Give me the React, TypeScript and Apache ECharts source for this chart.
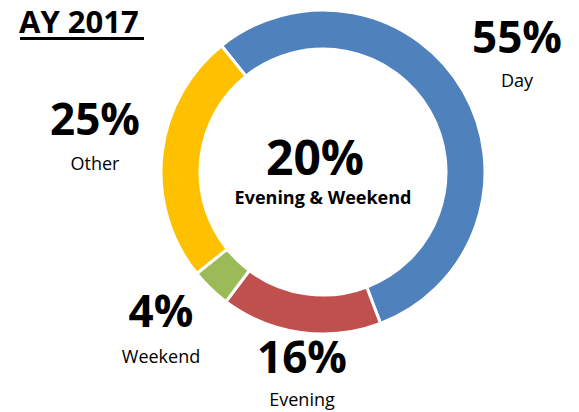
import React, { useEffect, useRef } from "react";
import * as echarts from "echarts";

const title = "AY 2017";
const categories = ["Day", "Evening", "Weekend", "Other"];
const values = [55, 16, 4, 25];
const colors = ["#4F81BD", "#C0504D", "#9BBB59", "#FFC000"];
const centerValue = 20;
const centerLabel = "Evening & Weekend";

// label anchor positions (centre x, middle y of the percentage text, middle y of the name)
const labelPos = [
  [517, 36, 80],
  [302, 356, 399],
  [161, 310, 356],
  [95, 118, 163],
];

export default function App() {
  const ref = useRef<HTMLDivElement>(null);
  useEffect(() => {
    if (!ref.current) return;
    const chart = echarts.init(ref.current, null, { renderer: "svg" });
    const font = "'Open Sans', 'Noto Sans', sans-serif";
    const graphics: any[] = [];
    graphics.push({
      type: "text",
      x: 19,
      y: 21,
      style: {
        text: title,
        font: `bold 31px ${font}`,
        fill: "#000",
        verticalAlign: "middle",
        lineHeight: 32,
      },
    });
    graphics.push({
      type: "rect",
      shape: { x: 20, y: 37, width: 124, height: 3 },
      style: { fill: "#000" },
    });
    categories.forEach((c, i) => {
      const [x, y1, y2] = labelPos[i];
      graphics.push({
        type: "text",
        x,
        y: y1,
        style: {
          text: `${values[i]}%`,
          font: `bold 44px ${font}`,
          fill: "#000",
          align: "center",
          verticalAlign: "middle",
          lineHeight: 40,
        },
      });
      graphics.push({
        type: "text",
        x,
        y: y2,
        style: {
          text: c,
          font: `18px ${font}`,
          fill: "#000",
          align: "center",
          verticalAlign: "middle",
          lineHeight: 20,
        },
      });
    });
    graphics.push({
      type: "text",
      x: 315,
      y: 156,
      style: {
        text: `${centerValue}%`,
        font: `bold 48px ${font}`,
        fill: "#000",
        align: "center",
        verticalAlign: "middle",
        lineHeight: 44,
      },
    });
    graphics.push({
      type: "text",
      x: 323,
      y: 197,
      style: {
        text: centerLabel,
        font: `bold 18px ${font}`,
        fill: "#000",
        align: "center",
        verticalAlign: "middle",
        lineHeight: 20,
      },
    });

    chart.setOption({
      animation: false,
      graphic: graphics,
      series: [
        {
          type: "pie",
          center: [323, 172],
          radius: [123, 162],
          startAngle: 128.8,
          clockwise: true,
          label: { show: false },
          labelLine: { show: false },
          silent: true,
          itemStyle: { borderColor: "#fff", borderWidth: 3 },
          data: categories.map((c, i) => ({
            name: c,
            value: values[i],
            itemStyle: { color: colors[i] },
          })),
        },
      ],
    });
    return () => chart.dispose();
  }, []);
  return (
    <div
      ref={ref}
      style={{ position: "fixed", left: 0, top: 0, width: 579, height: 412, background: "#fff" }}
    />
  );
}
